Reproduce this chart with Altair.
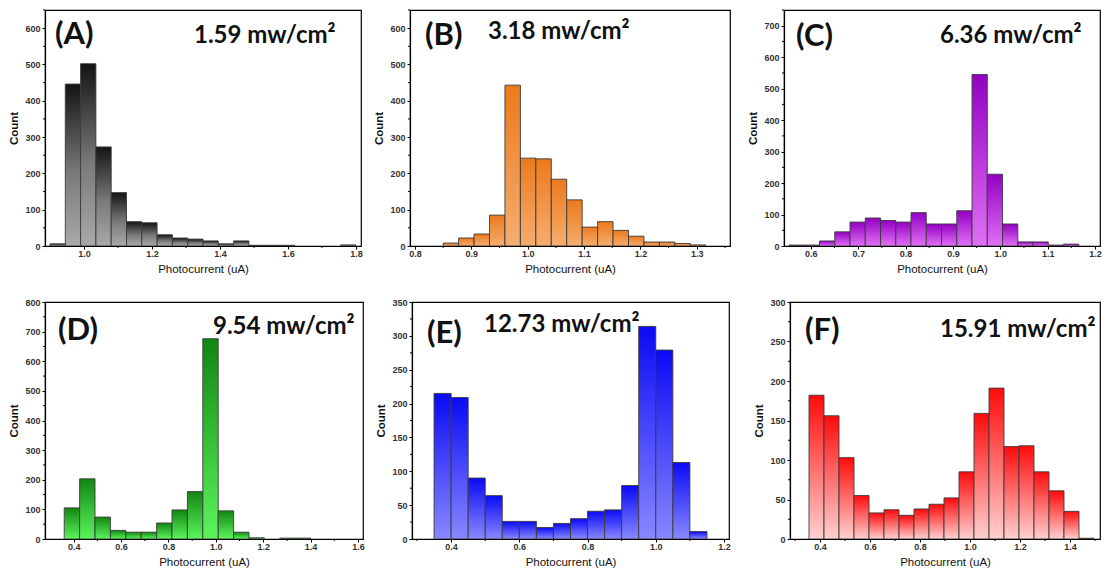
import altair as alt
import pandas as pd

# ---------------- data ----------------
a_start = [0.900, 0.945, 0.990, 1.035, 1.080, 1.125, 1.170, 1.215, 1.260, 1.305,
           1.350, 1.395, 1.440, 1.485, 1.530, 1.575, 1.755]
a_count = [6, 446, 502, 273, 147, 67, 64, 31, 22, 19, 14, 6, 14, 2, 2, 2, 3]
a_width = 0.045

b_start = [0.850, 0.8774, 0.9048, 0.9322, 0.9596, 0.9870, 1.0144, 1.0418, 1.0692,
           1.0966, 1.1240, 1.1514, 1.1788, 1.2062, 1.2336, 1.2610, 1.2884]
b_count = [8, 22, 33, 85, 443, 242, 240, 184, 127, 52, 67, 43, 27, 11, 11, 7, 3]
b_width = 0.0274

c_start = [0.554, 0.5862, 0.6184, 0.6506, 0.6828, 0.7150, 0.7472, 0.7794, 0.8116,
           0.8438, 0.8760, 0.9082, 0.9404, 0.9726, 1.0048, 1.0370, 1.0692, 1.1014, 1.1336]
c_count = [3, 3, 16, 45, 76, 89, 81, 76, 106, 70, 70, 112, 545, 228, 70, 13, 13, 3, 6]
c_width = 0.0322

d_start = [0.360, 0.425, 0.490, 0.555, 0.620, 0.685, 0.750, 0.815, 0.880, 0.945,
           1.010, 1.075, 1.140, 1.270, 1.335]
d_count = [105, 203, 74, 29, 23, 23, 54, 98, 160, 676, 95, 23, 4, 3, 3]
d_width = 0.065

e_start = [0.35, 0.40, 0.45, 0.50, 0.55, 0.60, 0.65, 0.70, 0.75, 0.80, 0.85, 0.90,
           0.95, 1.00, 1.05, 1.10]
e_count = [215, 209, 90, 64, 26, 26, 17, 23, 30, 41, 43, 79, 314, 279, 113, 11]
e_width = 0.05

f_start = [0.356, 0.416, 0.476, 0.536, 0.596, 0.656, 0.716, 0.776, 0.836, 0.896,
           0.956, 1.016, 1.076, 1.136, 1.196, 1.256, 1.316, 1.376, 1.436]
f_count = [182, 156, 103, 55, 33, 37, 30, 38, 44, 52, 85, 159, 191, 117, 118, 85, 61, 35, 1]
f_width = 0.06

letters = ["(A)", "(B)", "(C)", "(D)", "(E)", "(F)"]
intensities = ["1.59 mw/cm\u00b2", "3.18 mw/cm\u00b2", "6.36 mw/cm\u00b2",
               "9.54 mw/cm\u00b2", "12.73 mw/cm\u00b2", "15.91 mw/cm\u00b2"]

x_domains = [[0.9, 1.8], [0.8, 1.35], [0.554, 1.2], [0.3, 1.6], [0.3, 1.2], [0.3, 1.5]]
x_ticks = [[1.0, 1.2, 1.4, 1.6, 1.8],
           [0.8, 0.9, 1.0, 1.1, 1.2, 1.3],
           [0.6, 0.7, 0.8, 0.9, 1.0, 1.1, 1.2],
           [0.4, 0.6, 0.8, 1.0, 1.2, 1.4, 1.6],
           [0.4, 0.6, 0.8, 1.0, 1.2],
           [0.4, 0.6, 0.8, 1.0, 1.2, 1.4]]
x_minor = [[1.1, 1.3, 1.5, 1.7],
           [0.85, 0.95, 1.05, 1.15, 1.25, 1.35],
           [0.65, 0.75, 0.85, 0.95, 1.05, 1.15],
           [0.5, 0.7, 0.9, 1.1, 1.3, 1.5],
           [0.3, 0.5, 0.7, 0.9, 1.1],
           [0.3, 0.5, 0.7, 0.9, 1.1, 1.3, 1.5]]
y_domains = [[0, 650], [0, 650], [0, 750], [0, 800], [0, 350], [0, 300]]
y_ticks = [[0, 100, 200, 300, 400, 500, 600],
           [0, 100, 200, 300, 400, 500, 600],
           [0, 100, 200, 300, 400, 500, 600, 700],
           [0, 100, 200, 300, 400, 500, 600, 700, 800],
           [0, 50, 100, 150, 200, 250, 300, 350],
           [0, 50, 100, 150, 200, 250, 300]]
y_minor = [[50, 150, 250, 350, 450, 550, 650],
           [50, 150, 250, 350, 450, 550, 650],
           [50, 150, 250, 350, 450, 550, 650, 750],
           [50, 150, 250, 350, 450, 550, 650, 750],
           [25, 75, 125, 175, 225, 275, 325],
           [25, 75, 125, 175, 225, 275]]

# ---------------- styles ----------------
gradients = [
    [("#141414", 0), ("#7a7a7a", 0.55), ("#a9a9a9", 1)],
    [("#ec7a1c", 0), ("#f5ad70", 1)],
    [("#9400c4", 0), ("#e070f5", 1)],
    [("#128612", 0), ("#5cf55c", 1)],
    [("#0a0af5", 0), ("#8888ff", 1)],
    [("#ff0a0a", 0), ("#ffd0d0", 1)],
]
# (letter x, letter baseline, intensity x, intensity baseline) in panel pixels
text_pos = [(10, 34, 149, 33), (15, 35, 78, 29), (12, 36, 156, 33),
            (13, 38, 168, 32), (15, 41, 72, 30), (15, 38, 150, 35)]
widths = [316, 320, 316, 318, 317, 310]
heights = [236, 236, 236, 237, 237, 237]

def panel(i, starts, counts, bw):
    H = heights[i]
    df = pd.DataFrame({"start": starts, "count": counts})
    df["end"] = df["start"] + bw
    xs = alt.Scale(domain=x_domains[i], nice=False, zero=False)
    ys = alt.Scale(domain=y_domains[i], nice=False)
    xa = alt.Axis(values=x_ticks[i], format=".1f", labelPadding=0, titlePadding=5)
    ya = alt.Axis(values=y_ticks[i], titleFontWeight="bold", labelPadding=2,
                  titlePadding=5)
    grad = alt.Gradient(
        gradient="linear", x1=0, x2=0, y1=0, y2=1,
        stops=[alt.GradientStop(color=c, offset=o) for c, o in gradients[i]],
    )
    bars = alt.Chart(df).mark_bar(
        color=grad, stroke="#3a3a3a", strokeWidth=0.9, clip=True, orient="vertical"
    ).encode(
        x=alt.X("start:Q", title="Photocurrent (uA)", scale=xs, axis=xa),
        x2="end:Q",
        y=alt.Y("count:Q", title="Count", scale=ys, axis=ya),
        y2=alt.datum(0),
    )
    mx = alt.Chart(pd.DataFrame({"start": x_minor[i]})).mark_rule(
        color="#000000", strokeWidth=1
    ).encode(x=alt.X("start:Q", title="Photocurrent (uA)", scale=xs, axis=xa),
             y=alt.value(H), y2=alt.value(H + 2))
    my = alt.Chart(pd.DataFrame({"count": y_minor[i]})).mark_rule(
        color="#000000", strokeWidth=1
    ).encode(y=alt.Y("count:Q", title="Count", scale=ys, axis=ya),
             x=alt.value(0), x2=alt.value(-2))
    lx, ly, ix, iy = text_pos[i]
    tdf = pd.DataFrame({"letter": [letters[i]], "inten": [intensities[i]]})
    t1 = alt.Chart(tdf).mark_text(
        align="left", baseline="alphabetic", font="Lato", fontWeight="bold",
        fontSize=31, color="#111111"
    ).encode(x=alt.value(lx), y=alt.value(ly), text="letter:N")
    t2 = alt.Chart(tdf).mark_text(
        align="left", baseline="alphabetic", font="Lato", fontWeight="bold",
        fontSize=24, color="#111111"
    ).encode(x=alt.value(ix), y=alt.value(iy), text="inten:N")
    return alt.layer(bars, mx, my, t1, t2).properties(width=widths[i], height=H)

data = [(a_start, a_count, a_width), (b_start, b_count, b_width),
        (c_start, c_count, c_width), (d_start, d_count, d_width),
        (e_start, e_count, e_width), (f_start, f_count, f_width)]
panels = [panel(i, *d) for i, d in enumerate(data)]

row1 = alt.hconcat(alt.hconcat(panels[0], panels[1], spacing=10), panels[2], spacing=16)
row2 = alt.hconcat(alt.hconcat(panels[3], panels[4], spacing=10), panels[5], spacing=22)
chart = alt.vconcat(row1, row2, spacing=21).properties(padding=0).configure_axis(
    grid=False, domainColor="#000000", domainWidth=1.2, tickColor="#000000",
    tickSize=3, labelFont="Liberation Sans", labelFontSize=9,
    labelFontWeight="bold", labelColor="#333333",
    titleFont="Liberation Sans", titleFontSize=11.5, titleColor="#111111",
    titleFontWeight="normal",
).configure_view(stroke="#000000", strokeWidth=1.2)

chart.save("out.html", embed_options={"renderer": "svg", "actions": False})
